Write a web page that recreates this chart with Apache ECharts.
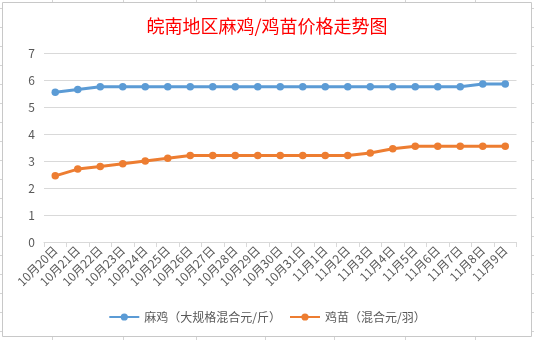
<!DOCTYPE html>
<html>
<head>
<meta charset="utf-8">
<script src="https://cdn.jsdelivr.net/npm/echarts@6/dist/echarts.min.js"></script>
<style>
  html, body { margin: 0; padding: 0; background: #ffffff; }
  #chart { width: 534px; height: 340px; }
</style>
</head>
<body>
<div id="chart"></div>
<script>
// 日期（横轴）
const dates = [
  '10月20日', '10月21日', '10月22日', '10月23日', '10月24日', '10月25日', '10月26日',
  '10月27日', '10月28日', '10月29日', '10月30日', '10月31日', '11月1日', '11月2日',
  '11月3日', '11月4日', '11月5日', '11月6日', '11月7日', '11月8日', '11月9日'
];

// 麻鸡（大规格混合，元/斤）
const majiPrice = [
  5.55, 5.65, 5.75, 5.75, 5.75, 5.75, 5.75,
  5.75, 5.75, 5.75, 5.75, 5.75, 5.75, 5.75,
  5.75, 5.75, 5.75, 5.75, 5.75, 5.85, 5.85
];

// 鸡苗（混合，元/羽）
const jimiaoPrice = [
  2.45, 2.7, 2.8, 2.9, 3.0, 3.1, 3.2,
  3.2, 3.2, 3.2, 3.2, 3.2, 3.2, 3.2,
  3.3, 3.45, 3.55, 3.55, 3.55, 3.55, 3.55
];

const seriesNames = ['麻鸡（大规格混合元/斤）', '鸡苗（混合元/羽）'];
const yTicks = { min: 0, max: 7, interval: 1 };

const FONT = '"Noto Sans CJK SC", "Microsoft YaHei", sans-serif';
const GRID_LINE = '#d9d9d9';
const SHEET_LINE = '#d4d4d4';

// 表格背景线（图表区四周露出的单元格线）
const sheetLines = [];
[52, 123, 196, 265, 334, 405, 475].forEach(x => {
  sheetLines.push({ type: 'line', silent: true,
    shape: { x1: x + 0.5, y1: 0, x2: x + 0.5, y2: 2 },
    style: { stroke: SHEET_LINE, lineWidth: 1 } });
  sheetLines.push({ type: 'line', silent: true,
    shape: { x1: x + 0.5, y1: 337, x2: x + 0.5, y2: 340 },
    style: { stroke: SHEET_LINE, lineWidth: 1 } });
});
for (let y = 8; y < 340; y += 19) {
  sheetLines.push({ type: 'line', silent: true,
    shape: { x1: 0, y1: y + 0.5, x2: 2, y2: y + 0.5 },
    style: { stroke: SHEET_LINE, lineWidth: 1 } });
  sheetLines.push({ type: 'line', silent: true,
    shape: { x1: 532, y1: y + 0.5, x2: 534, y2: y + 0.5 },
    style: { stroke: SHEET_LINE, lineWidth: 1 } });
}
// 图表区边框
sheetLines.push({ type: 'rect', silent: true,
  shape: { x: 2.5, y: 2.5, width: 529, height: 334 },
  style: { fill: null, stroke: '#c8c8c8', lineWidth: 1 } });

const chart = echarts.init(document.getElementById('chart'), null, { renderer: 'canvas' });

chart.setOption({
  backgroundColor: '#ffffff',
  animation: false,
  textStyle: { fontFamily: FONT },
  graphic: sheetLines,
  title: {
    text: '皖南地区麻鸡/鸡苗价格走势图',
    left: 'center',
    top: 12,
    textStyle: { color: '#ff0000', fontSize: 18, fontWeight: 'normal', fontFamily: FONT }
  },
  legend: {
    bottom: 12,
    left: 'center',
    itemWidth: 30,
    itemHeight: 9,
    itemGap: 8,
    textStyle: { color: '#595959', fontSize: 12, fontFamily: FONT },
    data: seriesNames
  },
  grid: { left: 44, right: 17.5, top: 53, bottom: 98, containLabel: false },
  xAxis: {
    type: 'category',
    data: dates,
    boundaryGap: true,
    axisLine: { lineStyle: { color: GRID_LINE, width: 1 } },
    axisTick: { show: true, length: 5, lineStyle: { color: GRID_LINE } },
    axisLabel: {
      rotate: 45,
      interval: 0,
      margin: 6,
      color: '#595959',
      fontSize: 12,
      fontFamily: FONT
    },
    splitLine: { show: false }
  },
  yAxis: {
    type: 'value',
    min: yTicks.min,
    max: yTicks.max,
    interval: yTicks.interval,
    axisLine: { show: false },
    axisTick: { show: false },
    axisLabel: { color: '#595959', fontSize: 12, margin: 9, fontFamily: FONT },
    splitLine: { lineStyle: { color: GRID_LINE, width: 1 } }
  },
  series: [
    {
      name: seriesNames[0],
      type: 'line',
      data: majiPrice,
      symbol: 'circle',
      symbolSize: 7.5,
      lineStyle: { color: '#5b9bd5', width: 3 },
      itemStyle: { color: '#5b9bd5' }
    },
    {
      name: seriesNames[1],
      type: 'line',
      data: jimiaoPrice,
      symbol: 'circle',
      symbolSize: 7.5,
      lineStyle: { color: '#ed7d31', width: 3 },
      itemStyle: { color: '#ed7d31' }
    }
  ]
});
</script>
</body>
</html>
